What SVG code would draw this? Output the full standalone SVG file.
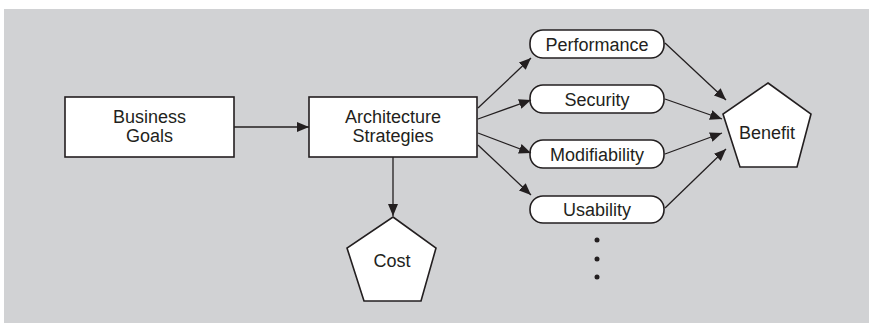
<svg xmlns="http://www.w3.org/2000/svg" width="869" height="323" viewBox="0 0 869 323">
<defs>
<marker id="arr" viewBox="0 0 12 10" refX="12" refY="5" markerWidth="12" markerHeight="10" markerUnits="userSpaceOnUse" orient="auto">
<path d="M0,0 L12,5 L0,10 Z" fill="#231f20"/>
</marker>
</defs>
<style>
.box{fill:#fff;stroke:#231f20;stroke-width:1.6}
.lbl{font-family:"Liberation Sans",Arial,sans-serif;font-size:18px;fill:#231f20;text-anchor:middle}
.edge{stroke:#231f20;stroke-width:1.3;fill:none;marker-end:url(#arr)}
</style>
<rect x="4" y="9" width="865" height="314" fill="#d1d2d4"/>
<g id="business-goals">
<rect class="box" x="65" y="97" width="169" height="60"/>
<text class="lbl" x="149.5" y="123">Business</text>
<text class="lbl" x="149.5" y="142">Goals</text>
</g>
<g id="architecture-strategies">
<rect class="box" x="309" y="97" width="168" height="60"/>
<text class="lbl" x="393" y="123">Architecture</text>
<text class="lbl" x="393" y="142">Strategies</text>
</g>
<g id="cost">
<polygon class="box" points="393,217 436,248 421,301 364,301 347,248"/>
<text class="lbl" x="392" y="267">Cost</text>
</g>
<g id="performance">
<rect class="box" x="530" y="30" width="134" height="28" rx="13"/>
<text class="lbl" x="597" y="51">Performance</text>
</g>
<g id="security">
<rect class="box" x="530" y="85" width="134" height="28" rx="13"/>
<text class="lbl" x="597" y="106">Security</text>
</g>
<g id="modifiability">
<rect class="box" x="530" y="140" width="134" height="28" rx="13"/>
<text class="lbl" x="597" y="161">Modifiability</text>
</g>
<g id="usability">
<rect class="box" x="530" y="196" width="134" height="27" rx="13"/>
<text class="lbl" x="597" y="216">Usability</text>
</g>
<g id="benefit">
<polygon class="box" points="768,83 811,114 797,167 740,167 723,114"/>
<text class="lbl" x="767" y="139">Benefit</text>
</g>
<g id="ellipsis" fill="#231f20">
<circle cx="597" cy="240" r="2.5"/>
<circle cx="597" cy="259" r="2.5"/>
<circle cx="597" cy="277" r="2.5"/>
</g>
<g id="connectors">
<line class="edge" x1="234" y1="127" x2="309" y2="127"/>
<line class="edge" x1="393" y1="157" x2="393" y2="216"/>
<line class="edge" x1="478" y1="108" x2="531" y2="58"/>
<line class="edge" x1="478" y1="119" x2="531" y2="100"/>
<line class="edge" x1="478" y1="133" x2="531" y2="153"/>
<line class="edge" x1="478" y1="145" x2="531" y2="195"/>
<line class="edge" x1="665" y1="43" x2="726" y2="100"/>
<line class="edge" x1="665" y1="99" x2="722" y2="119"/>
<line class="edge" x1="665" y1="154" x2="722" y2="133"/>
<line class="edge" x1="665" y1="208" x2="726" y2="149"/>
</g>
</svg>
